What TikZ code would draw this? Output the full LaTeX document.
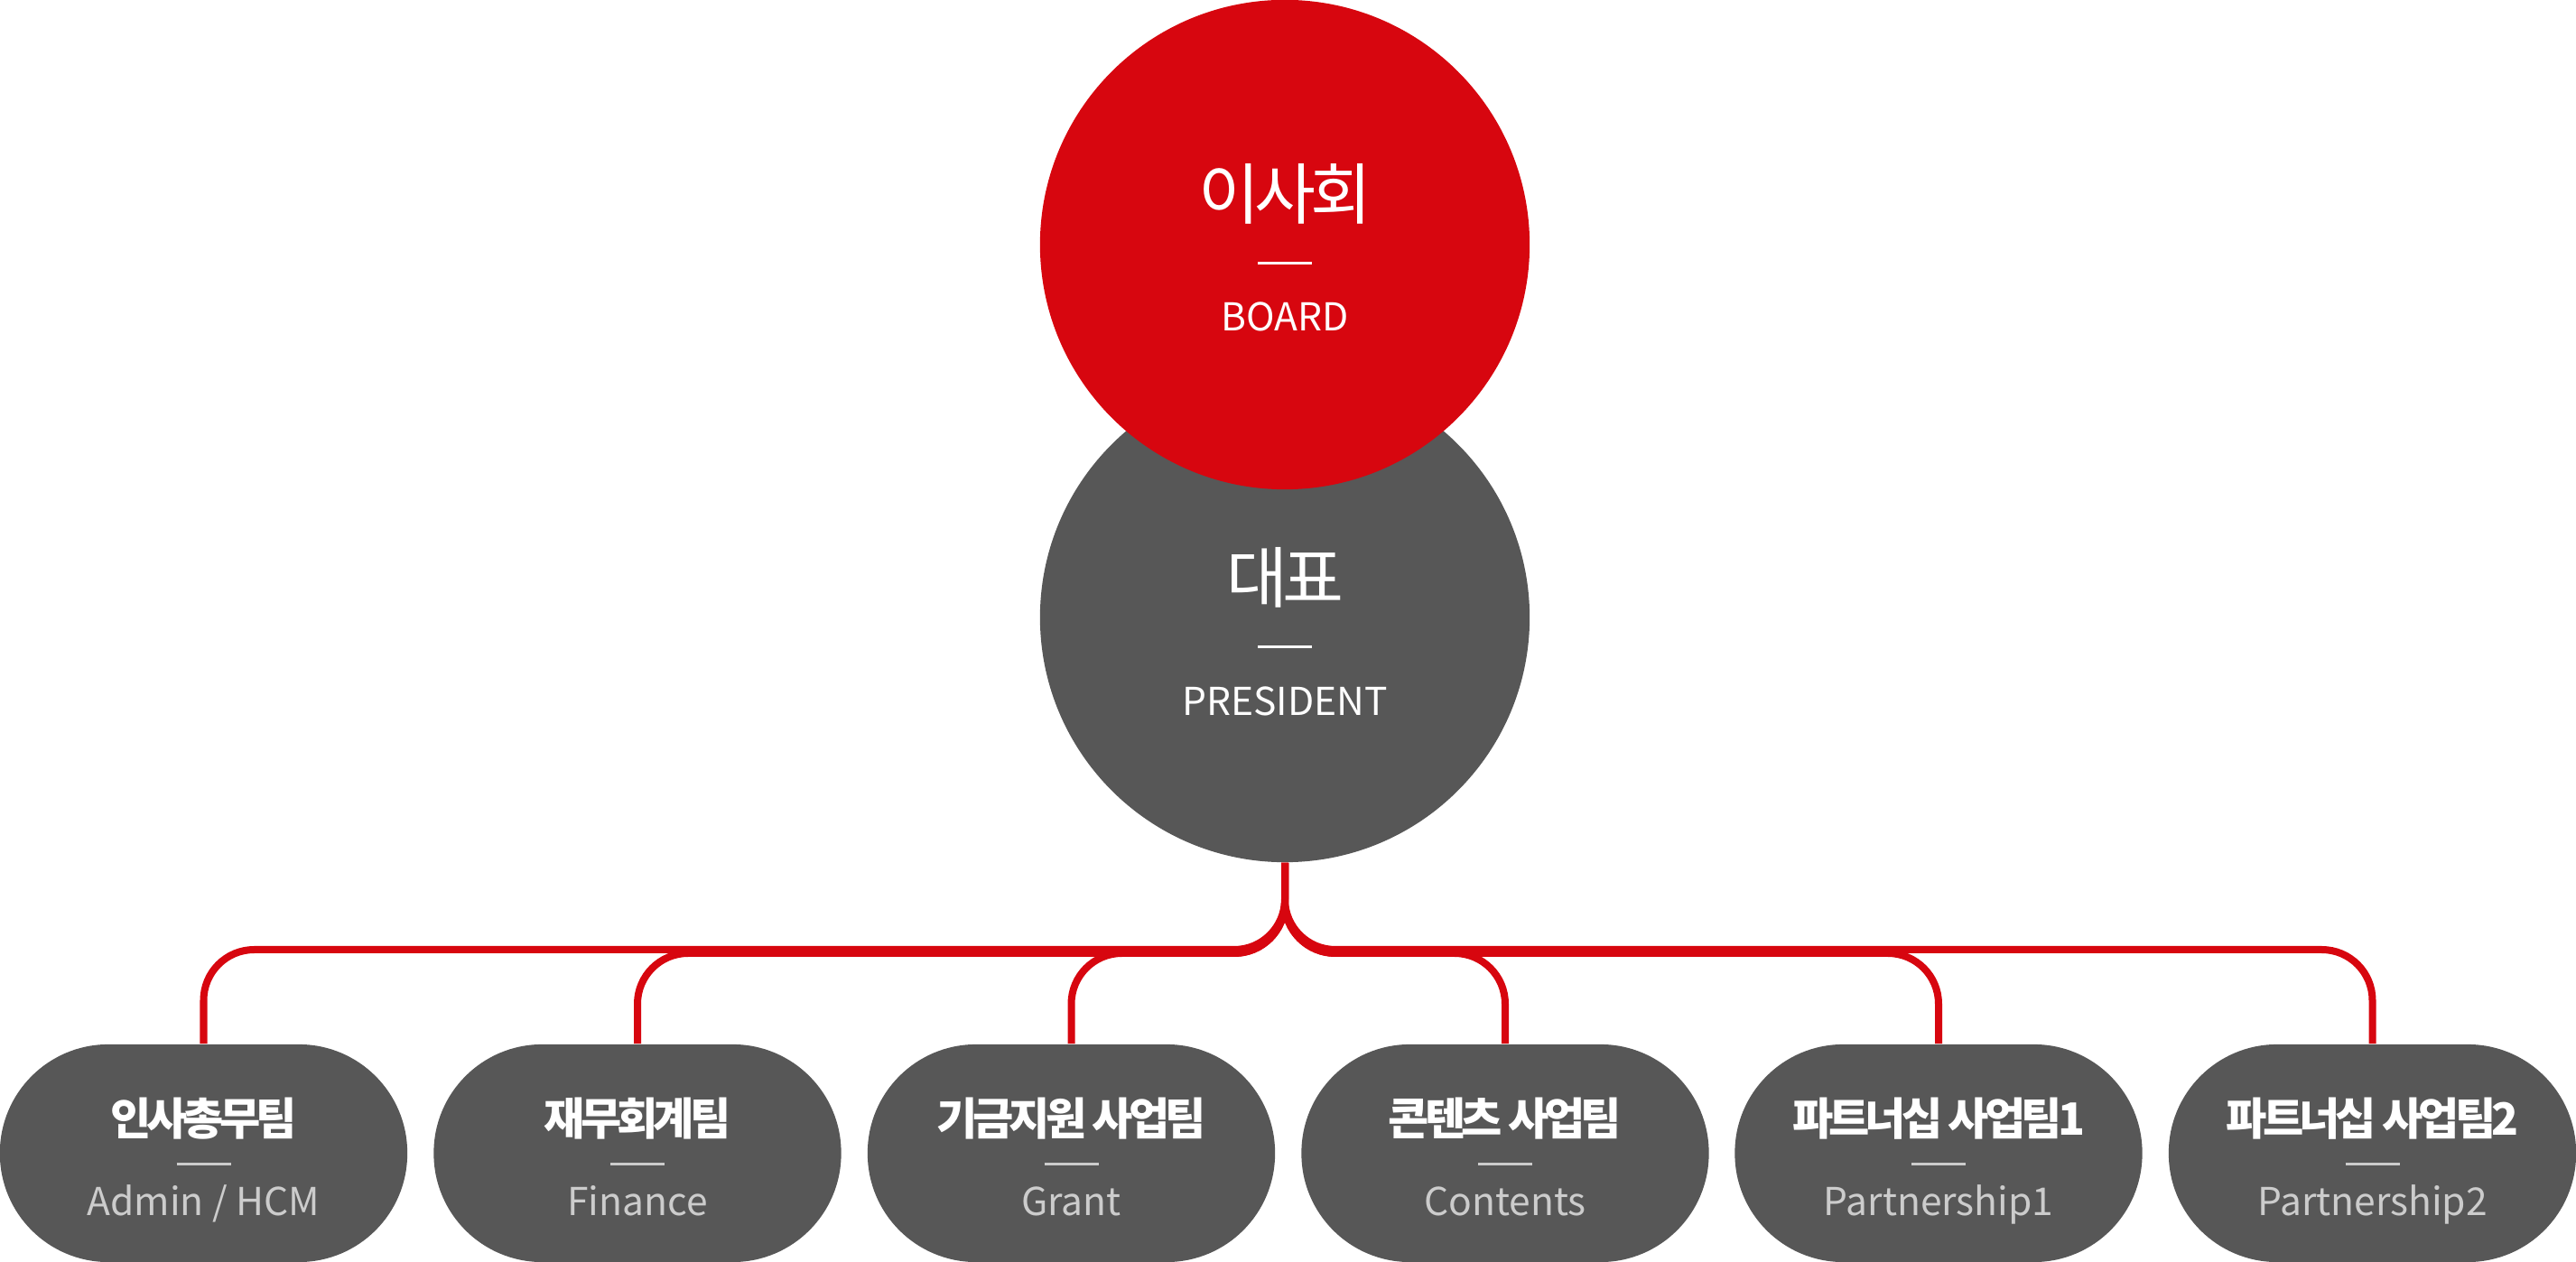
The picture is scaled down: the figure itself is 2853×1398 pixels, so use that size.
\documentclass[tikz,border=0pt]{standalone}
\usepackage{fontspec}
\setmainfont{Noto Sans CJK KR}
\usetikzlibrary{positioning}
\definecolor{boardred}{HTML}{D7060F}
\definecolor{deptgray}{HTML}{575757}
\definecolor{subgray}{HTML}{CCCCCC}
\newcommand{\team}[4]{%
	\node[team] (#1) at (#2,1277.5) {};
	\node[teamtitle] (#1-t) at (#2,1258) {#3};
	\draw[teamrule] (#2-30,1290) -- (#2+30,1290);
	\node[teamsub] (#1-s) at (#2,1347) {#4};
}

\begin{document}
\begin{tikzpicture}[
		x=0.01cm, y=-0.01cm,
		circ/.style={circle, inner sep=0pt, minimum size=5.42cm},
		team/.style={rectangle, fill=deptgray, rounded corners=1.2cm, minimum width=4.51cm, minimum height=2.41cm, inner sep=0pt},
		bigtitle/.style={anchor=base, text=white, inner sep=0pt, font=\fontsize{21}{25}\selectfont\addfontfeatures{LetterSpace=-8}},
		bigsub/.style={anchor=base, text=white, inner sep=0pt, font=\fontsize{12.1}{14}\selectfont},
		teamtitle/.style={anchor=base, text=white, inner sep=0pt, font=\fontsize{14}{17}\selectfont\bfseries\addfontfeatures{LetterSpace=-10}},
		teamsub/.style={anchor=base, text=subgray, inner sep=0pt, font=\fontsize{12.1}{14}\selectfont},
		bigrule/.style={draw=white, line width=0.03cm},
		teamrule/.style={draw=subgray, line width=0.03cm},
		link/.style={draw=boardred, line width=0.08cm, rounded corners=0.56cm},
	]
	\useasboundingbox (0,0) rectangle (2853,1398);

	\node[circ, fill=deptgray] (pres) at (1423,684) {};
	\node[circ, fill=boardred] (board) at (1423,271) {};

	\node[bigtitle] (board-t) at (1423,243) {이사회};
	\draw[bigrule] (1393,292) -- (1453,292);
	\node[bigsub] (board-s) at (1423,367) {BOARD};

	\node[bigtitle] (pres-t) at (1423,668) {대표};
	\draw[bigrule] (1393,717) -- (1453,717);
	\node[bigsub] (pres-s) at (1423,793) {PRESIDENT};

	\team{admin}{225.5}{인사총무팀}{Admin / HCM}
	\team{finance}{706}{재무회계팀}{Finance}
	\team{grant}{1186.5}{기금지원 사업팀}{Grant}
	\team{contents}{1667}{콘텐츠 사업팀}{Contents}
	\team{partner1}{2147}{파트너십 사업팀1}{Partnership1}
	\team{partner2}{2627.5}{파트너십 사업팀2}{Partnership2}

	\coordinate (bus) at (1423,1052);
	\coordinate (busin) at (1423,1056);
	\draw[link] (pres.south) |- (admin.north |- bus) -- (admin.north);
	\draw[link] (pres.south) |- (finance.north |- busin) -- (finance.north);
	\draw[link] (pres.south) |- (grant.north |- busin) -- (grant.north);
	\draw[link] (pres.south) |- (contents.north |- busin) -- (contents.north);
	\draw[link] (pres.south) |- (partner1.north |- busin) -- (partner1.north);
	\draw[link] (pres.south) |- (partner2.north |- bus) -- (partner2.north);
\end{tikzpicture}
\end{document}
